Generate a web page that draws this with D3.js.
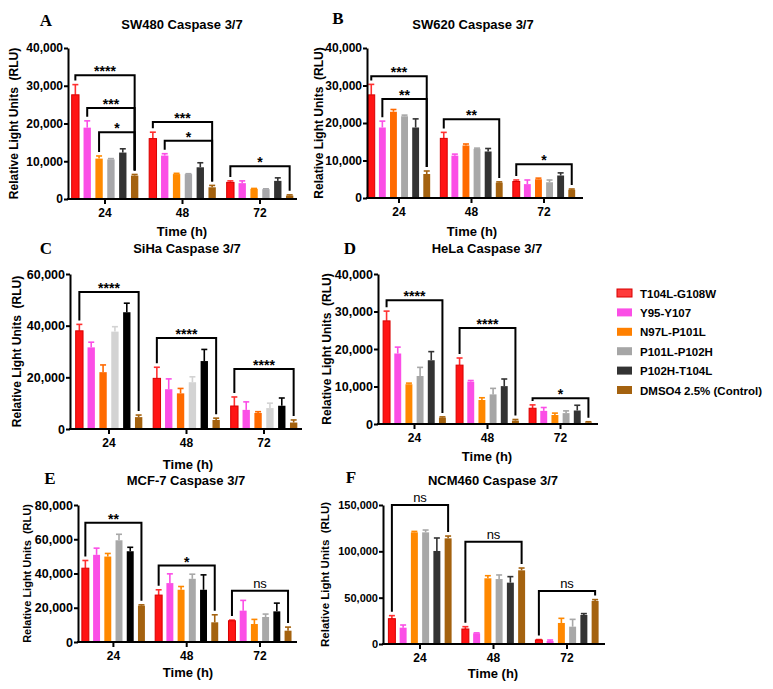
<!DOCTYPE html>
<html><head><meta charset="utf-8">
<script src="https://cdn.jsdelivr.net/npm/d3@7"></script>
<style>body{margin:0;background:#fff}</style>
</head><body><svg id="c" width="773" height="689"></svg>
<script>
const times = ["24","48","72"];
const seriesNames = ["T104L-G108W","Y95-Y107","N97L-P101L","P101L-P102H","P102H-T104L","DMSO4 2.5% (Control)"];

// SW480
const sw480Values = [[27600,18900,10700,10500,12300,6200],[16000,11500,6600,6600,8400,3100],[4400,4200,2700,2600,4800,900]];
const sw480Errors = [[2700,1800,700,200,1000,300],[1700,500,200,100,1200,500],[400,600,100,100,800,200]];
const sw480Brackets = [
  {t:"24",from:0,to:5,y:32800,label:"****"},
  {t:"24",from:1,to:5,y:24100,label:"***"},
  {t:"24",from:2,to:5,y:17700,label:"*"},
  {t:"48",from:0,to:5,y:20400,label:"***"},
  {t:"48",from:1,to:5,y:15400,label:"*"},
  {t:"72",from:0,to:5,y:8700,label:"*"}];
// SW620
const sw620Values = [[27500,18800,23000,21800,18800,6400],[15900,11300,14000,13100,12400,4100],[4400,3700,5000,4200,6000,2200]];
const sw620Errors = [[2800,1700,600,300,2300,800],[1600,400,400,200,800,200],[400,1100,300,600,700,200]];
const sw620Brackets = [
  {t:"24",from:0,to:5,y:32500,label:"***"},
  {t:"24",from:1,to:5,y:26400,label:"**"},
  {t:"48",from:0,to:5,y:21000,label:"**"},
  {t:"72",from:0,to:5,y:9000,label:"*"}];
// SiHa
const sihaValues = [[38000,31600,22000,37700,45200,4600],[19600,15400,13800,18100,26300,3500],[8900,7400,6200,8100,9000,2500]];
const sihaErrors = [[2500,2000,2800,1900,3500,800],[4300,4000,1900,2100,4500,700],[3500,3100,500,1900,3000,1000]];
const sihaBrackets = [
  {t:"24",from:0,to:5,y:53000,label:"****"},
  {t:"48",from:0,to:5,y:35200,label:"****"},
  {t:"72",from:0,to:5,y:23200,label:"****"}];
// HeLa
const helaValues = [[27500,18800,10600,12800,17000,1700],[15700,11300,6400,7900,10100,900],[4200,3500,2400,2900,3600,400]];
const helaErrors = [[2600,1700,300,2300,2300,200],[1900,300,600,1600,1900,300],[900,900,500,600,1400,200]];
const helaBrackets = [
  {t:"24",from:0,to:5,y:33000,label:"****"},
  {t:"48",from:0,to:5,y:25600,label:"****"},
  {t:"72",from:0,to:5,y:6900,label:"*"}];
// MCF-7
const mcfValues = [[43100,50900,49900,59400,53000,21200],[27400,34400,30500,36900,30500,11500],[12400,18300,10500,14600,17900,6600]];
const mcfErrors = [[4500,3900,1800,3500,2300,500],[3100,5400,1900,2700,8700,4400],[400,6000,2700,1700,4800,2100]];
const mcfBrackets = [
  {t:"24",from:0,to:5,y:69700,label:"**"},
  {t:"48",from:0,to:5,y:44600,label:"*"},
  {t:"72",from:0,to:5,y:30000,label:"ns"}];
// NCM460
const ncmValues = [[27300,17600,120500,120500,100400,114000],[16200,11500,70900,70100,66200,79500],[4300,3200,22700,18700,31300,46400]];
const ncmErrors = [[3300,2900,1000,2500,14000,2500],[2500,500,2800,4400,6500,2500],[500,1100,5000,7900,1500,1500]];
const ncmBrackets = [
  {t:"24",from:0,to:5,y:150000,label:"ns"},
  {t:"48",from:0,to:5,y:110400,label:"ns"},
  {t:"72",from:0,to:5,y:57200,label:"ns"}];

const ticks40 = [0,10000,20000,30000,40000];
const ticks60 = [0,20000,40000,60000];
const ticks80 = [0,20000,40000,60000,80000];
const ticks150 = [0,50000,100000,150000];

const FONT = "'Liberation Sans', Arial, Helvetica, sans-serif";
const red = "#ff1414", pink = "#fb4ee6", brown = "#a4620f";

const panels = [
  {letter:"A", title:"SW480 Caspase 3/7", values:sw480Values, errors:sw480Errors, brackets:sw480Brackets,
   yMax:40000, ticks:ticks40, axisX:68, top:48, bottom:199, c0:105, step:77.5, xEnd:297,
   titleX:182, titleY:29, letterX:46, letterY:26, yTitleX:14, yTitleSize:12, tickSize:12, xTitleX:182, xTitleY:236,
   orange:"#ff8a00", gray:"#a7a7aa", black:"#333333"},
  {letter:"B", title:"SW620 Caspase 3/7", values:sw620Values, errors:sw620Errors, brackets:sw620Brackets,
   yMax:40000, ticks:ticks40, axisX:367, top:48, bottom:198, c0:399, step:72.5, xEnd:583,
   titleX:473, titleY:29, letterX:338, letterY:24, yTitleX:319, yTitleSize:12, tickSize:12, xTitleX:472, xTitleY:236,
   orange:"#ff6a00", gray:"#a8a8a8", black:"#333333"},
  {letter:"C", title:"SiHa Caspase 3/7", values:sihaValues, errors:sihaErrors, brackets:sihaBrackets,
   yMax:60000, ticks:ticks60, axisX:70, top:274, bottom:429, c0:109, step:77.5, xEnd:302,
   titleX:187, titleY:253, letterX:46, letterY:254, yTitleX:17, yTitleSize:12, tickSize:12.5, xTitleX:188, xTitleY:469,
   orange:"#ff6a00", gray:"#d3d3d3", black:"#000000"},
  {letter:"D", title:"HeLa Caspase 3/7", values:helaValues, errors:helaErrors, brackets:helaBrackets,
   yMax:40000, ticks:ticks40, axisX:378, top:274, bottom:424, c0:414.5, step:73, xEnd:598,
   titleX:487, titleY:253, letterX:350, letterY:254, yTitleX:327, yTitleSize:12, tickSize:12.5, xTitleX:487, xTitleY:461,
   orange:"#ff8800", gray:"#a6a6a6", black:"#333333"},
  {letter:"E", title:"MCF-7 Caspase 3/7", values:mcfValues, errors:mcfErrors, brackets:mcfBrackets,
   yMax:80000, ticks:ticks80, axisX:78, top:505, bottom:642, c0:113.4, step:73.3, xEnd:297,
   titleX:186, titleY:485, letterX:50, letterY:484, yTitleX:27, yTitleSize:11, tickSize:12.5, xTitleX:188, xTitleY:677,
   orange:"#ff8800", gray:"#a8a8a8", black:"#000000"},
  {letter:"F", title:"NCM460 Caspase 3/7", values:ncmValues, errors:ncmErrors, brackets:ncmBrackets,
   yMax:150000, ticks:ticks150, axisX:383, top:505, bottom:644, c0:420, step:73.5, xEnd:605,
   titleX:493, titleY:485, letterX:351, letterY:483, yTitleX:325, yTitleSize:11.5, tickSize:11, xTitleX:493, xTitleY:678,
   orange:"#ff8800", gray:"#a8a8a8", black:"#333333"}
];

const svg = d3.select("#c");
svg.append("rect").attr("width",773).attr("height",689).attr("fill","#fff");

panels.forEach(p => {
  const g = svg.append("g");
  const y = d3.scaleLinear().domain([0, p.yMax]).range([p.bottom, p.top]);
  const x = d3.scaleBand().domain(times)
    .range([p.c0 - p.step/2, p.c0 + 2.5*p.step]).paddingInner(0.14).paddingOuter(0.07);
  const xs = d3.scaleBand().domain(d3.range(6)).range([0, x.bandwidth()]).paddingInner(0.38);
  const colors = [red, pink, p.orange, p.gray, p.black, brown];

  // error bars
  times.forEach((t, ti) => {
    p.values[ti].forEach((v, si) => {
      const cx = x(t) + xs(si) + xs.bandwidth()/2;
      const e = p.errors[ti][si];
      const col = si === 0 ? "#ff3030" : colors[si];
      g.append("line").attr("x1",cx).attr("x2",cx).attr("y1",y(v)).attr("y2",y(v+e))
        .attr("stroke",col).attr("stroke-width",1.6);
      g.append("line").attr("x1",cx-3).attr("x2",cx+3).attr("y1",y(v+e)).attr("y2",y(v+e))
        .attr("stroke",col).attr("stroke-width",1.6);
    });
  });
  // bars
  times.forEach((t, ti) => {
    g.selectAll(null).data(p.values[ti]).enter().append("rect")
      .attr("x",(d,i)=> x(t) + xs(i))
      .attr("y",d => y(d))
      .attr("width", xs.bandwidth())
      .attr("height", d => y(0) - y(d))
      .attr("fill",(d,i)=> colors[i])
      .attr("stroke",(d,i)=> i===0 ? "#d80000" : "none")
      .attr("stroke-width",1);
  });

  // y axis
  const ya = g.append("g").attr("transform",`translate(${p.axisX},0)`)
    .call(d3.axisLeft(y).tickValues(p.ticks).tickFormat(d3.format(",")).tickSize(4).tickSizeOuter(0).tickPadding(1));
  ya.select(".domain").attr("stroke","#000").attr("stroke-width",2);
  ya.selectAll(".tick line").attr("stroke","#000").attr("stroke-width",2);
  ya.selectAll(".tick text").attr("font-family",FONT).attr("font-weight","bold")
    .attr("font-size",p.tickSize).attr("fill","#000");

  // x axis
  const xa = g.append("g").attr("transform",`translate(0,${p.bottom})`)
    .call(d3.axisBottom(x).tickSize(5).tickSizeOuter(0).tickPadding(4));
  xa.select(".domain").remove();
  xa.selectAll(".tick line").attr("stroke","#000").attr("stroke-width",2);
  xa.selectAll(".tick text").attr("font-family",FONT).attr("font-weight","bold")
    .attr("font-size",12).attr("fill","#000");
  g.append("line").attr("x1",p.axisX-1).attr("x2",p.xEnd).attr("y1",p.bottom).attr("y2",p.bottom)
    .attr("stroke","#000").attr("stroke-width",2);

  // brackets
  p.brackets.forEach(b => {
    const ti = times.indexOf(b.t);
    const xl = x(b.t) + xs(b.from) + xs.bandwidth()/2;
    const xr = x(b.t) + xs(b.to) + xs.bandwidth()/2;
    const yt = y(b.y);
    const yl = y(p.values[ti][b.from] + p.errors[ti][b.from]) - 4;
    const yr = y(p.values[ti][b.to] + p.errors[ti][b.to]) - 4;
    g.append("path").attr("d",`M${xl},${yl}V${yt}H${xr}V${yr}`)
      .attr("fill","none").attr("stroke","#000").attr("stroke-width",2);
    const isNs = b.label === "ns";
    g.append("text").attr("x",(xl+xr)/2).attr("y", isNs ? yt-3 : yt+1)
      .attr("text-anchor","middle").attr("font-family",FONT)
      .attr("font-weight", isNs ? "normal" : "bold").attr("font-size", isNs ? 13 : 14)
      .attr("fill","#000").text(b.label);
  });

  // titles
  g.append("text").attr("x",p.titleX).attr("y",p.titleY).attr("text-anchor","middle")
    .attr("font-family",FONT).attr("font-weight","bold").attr("font-size",13).text(p.title);
  g.append("text").attr("x",p.letterX).attr("y",p.letterY).attr("text-anchor","middle")
    .attr("font-family","'Liberation Serif','Times New Roman',serif").attr("font-weight","bold")
    .attr("font-size",17).text(p.letter);
  g.append("text").attr("transform",`translate(${p.yTitleX+4},${(p.top+p.bottom)/2}) rotate(-90)`)
    .attr("text-anchor","middle").attr("font-family",FONT).attr("font-weight","bold")
    .attr("font-size",p.yTitleSize).attr("xml:space","preserve").style("white-space","pre")
    .text("Relative Light Units  (RLU)");
  g.append("text").attr("x",p.xTitleX).attr("y",p.xTitleY).attr("text-anchor","middle")
    .attr("font-family",FONT).attr("font-weight","bold").attr("font-size",13).text("Time (h)");
});

// legend
const legendColors = [red, pink, "#ff8000", "#a6a6a6", "#333333", brown];
const ly = d3.scalePoint().domain(seriesNames).range([293, 390]);
const lg = svg.append("g");
seriesNames.forEach((n, i) => {
  lg.append("rect").attr("x",617).attr("y",ly(n)-4).attr("width",15).attr("height",8)
    .attr("fill", i===0 ? "#ff3b3b" : legendColors[i])
    .attr("stroke", i===0 ? "#d80000" : "none").attr("stroke-width",1);
  lg.append("text").attr("x",640).attr("y",ly(n)+4.5).attr("font-family",FONT)
    .attr("font-weight","bold").attr("font-size",11.5).attr("fill","#000").text(n);
});
</script>
</body></html>
